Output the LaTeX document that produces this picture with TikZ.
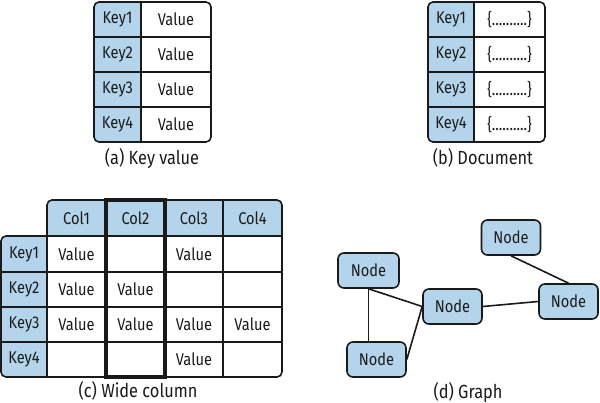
\documentclass[tikz,border=0pt]{standalone}
\usepackage{fontspec}
\setmainfont{Fira Sans}[FakeStretch=0.86]
\definecolor{kb}{HTML}{B3D4EA}
\definecolor{ln}{HTML}{1A1A1A}
\tikzset{
  gridln/.style={draw=ln, line width=1.6pt},
  celltxt/.style={font=\fontsize{17}{19}\selectfont, inner sep=0pt, text=ln},
  captxt/.style={font=\fontsize{19}{21}\selectfont, inner sep=0pt, text=ln},
  gnode/.style={draw=ln, fill=kb, line width=1.6pt, rounded corners=6pt, minimum width=59pt, minimum height=35pt, inner sep=0pt, font=\fontsize{17}{19}\selectfont, text=ln},
  edgeln/.style={draw=ln, line width=1.6pt}
}
\begin{document}
\begin{tikzpicture}[x=1pt,y=-1pt]
\useasboundingbox (0,0) rectangle (600,403);
% ---------- (a) Key value ----------
\begin{scope}
\clip[rounded corners=5pt] (94,2) rectangle (211,142);
\fill[kb] (94,2) rectangle (141,142);
\end{scope}
\draw[gridln] (141,2) -- (141,142);
\foreach \y in {37,72,107} \draw[gridln] (94,\y) -- (211,\y);
\draw[gridln, rounded corners=5pt] (94,2) rectangle (211,142);
\foreach \i/\y in {1/19.5,2/54.5,3/89.5,4/124.5}{
  \node[celltxt] (ak\i) at (117.5,\y) {Key\i};
  \node[celltxt] (av\i) at (176,\y) {Value};
}
\node[captxt] (capa) at (152,158) {(a) Key value};
% ---------- (b) Document ----------
\begin{scope}
\clip[rounded corners=5pt] (428,2) rectangle (545,142);
\fill[kb] (428,2) rectangle (474,142);
\end{scope}
\draw[gridln] (474,2) -- (474,142);
\foreach \y in {37,72,107} \draw[gridln] (428,\y) -- (545,\y);
\draw[gridln, rounded corners=5pt] (428,2) rectangle (545,142);
\foreach \i/\y in {1/19.5,2/54.5,3/89.5,4/124.5}{
  \node[celltxt] (bk\i) at (451,\y) {Key\i};
  \node[celltxt] (bv\i) at (509.5,\y) {\{..........\}};
}
\node[captxt] (capb) at (483,158) {(b) Document};
% ---------- (c) Wide column ----------
\begin{scope}
\clip[rounded corners=5pt] (47,236) -- (47,200) -- (282,200) -- (282,377) -- (1,377) -- (1,236) -- cycle;
\fill[kb] (47,200) rectangle (282,236);
\fill[kb] (1,236) rectangle (47,377);
\end{scope}
\draw[gridln] (47,236) -- (282,236);
\foreach \y in {272,307,342} \draw[gridln] (1,\y) -- (282,\y);
\draw[gridln] (47,236) -- (47,377);
\draw[gridln] (223,200) -- (223,377);
\draw[gridln, rounded corners=5pt] (47,240) -- (47,200) -- (282,200) -- (282,377) -- (1,377) -- (1,236) -- (47,236);
\draw[draw=ln, line width=3.2pt] (106,200) rectangle (165,377);
\node[celltxt] (c1) at (76.5,218) {Col1};
\node[celltxt] (c2) at (135.5,218) {Col2};
\node[celltxt] (c3) at (194,218) {Col3};
\node[celltxt] (c4) at (252.5,218) {Col4};
\node[celltxt] (ck1) at (24,254) {Key1};
\node[celltxt] (ck2) at (24,289.5) {Key2};
\node[celltxt] (ck3) at (24,324.5) {Key3};
\node[celltxt] (ck4) at (24,359.5) {Key4};
\node[celltxt] (v11) at (76.5,254) {Value};
\node[celltxt] (v13) at (194,254) {Value};
\node[celltxt] (v21) at (76.5,289.5) {Value};
\node[celltxt] (v22) at (135.5,289.5) {Value};
\node[celltxt] (v31) at (76.5,324.5) {Value};
\node[celltxt] (v32) at (135.5,324.5) {Value};
\node[celltxt] (v33) at (194,324.5) {Value};
\node[celltxt] (v34) at (252.5,324.5) {Value};
\node[celltxt] (v43) at (194,359.5) {Value};
\node[captxt] (capc) at (138,391) {(c) Wide column};
% ---------- (d) Graph ----------
\node[gnode] (tr) at (511,237.5) {Node};
\node[gnode, minimum width=61pt] (lt) at (368.5,270.5) {Node};
\node[gnode] (cn) at (452.5,306.5) {Node};
\node[gnode] (rt) at (568.5,301.5) {Node};
\node[gnode] (bl) at (376.5,359.5) {Node};
\draw[edgeln] (lt.south) -- (lt.south |- bl.north);
\draw[edgeln] (lt.south) -- (cn.west);
\draw[edgeln] (bl.east) -- (cn.west);
\draw[edgeln] (cn.east) -- (rt.west);
\draw[edgeln] (tr.south) -- (rt.north);
\node[captxt] (capd) at (468,392) {(d) Graph};
\end{tikzpicture}
\end{document}
